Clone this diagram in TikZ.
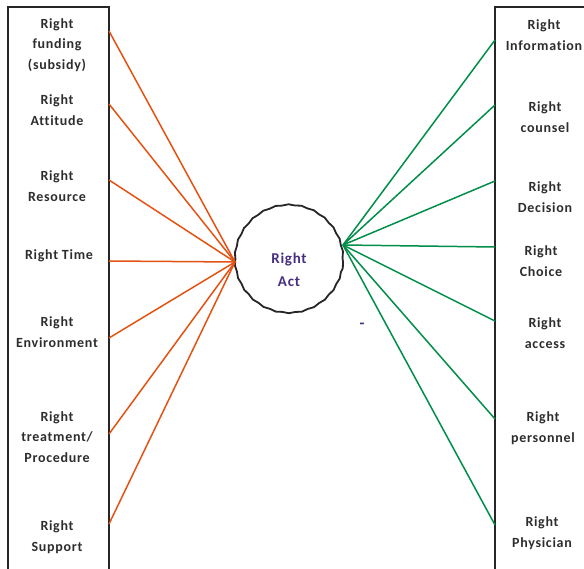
\documentclass[tikz,border=0pt]{standalone}
\usepackage{fontspec}
\setmainfont{Carlito}[LetterSpace=5, Ligatures={NoCommon}]
\usetikzlibrary{decorations.pathmorphing}

\definecolor{leftline}{RGB}{228,82,18}
\definecolor{rightline}{RGB}{0,142,72}
\definecolor{actcolor}{RGB}{72,46,128}
\definecolor{boxtext}{RGB}{45,45,45}

\tikzset{
  item/.style={align=center, text=boxtext, font=\fontsize{14}{20.8}\selectfont\bfseries},
  box/.style={draw=black!85, line width=1.5pt},
  lline/.style={leftline, line width=1.5pt},
  rline/.style={rightline, line width=1.5pt}
}

\begin{document}
\begin{tikzpicture}[x=1pt,y=-1pt]

\useasboundingbox (0,0) rectangle (584,569);

\draw[box] (8,575) -- (8,7) -- (109,7) -- (109,575);
\draw[box] (590,7) -- (495,7) -- (495,575);

\node[draw=black!85, line width=1.8pt, circle, minimum size=108pt, decorate,
  decoration={snake, amplitude=0.45pt, segment length=13pt}] (act) at (289,262) {};
\node[text=actcolor, font=\fontsize{15}{23}\selectfont\bfseries, align=center] (acttext) at (289,270) {Right\\Act};

\node[item] (funding) at (57,45) {Right\\funding\\(subsidy)};
\node[item] (attitude) at (57,110) {Right\\Attitude};
\node[item] (resource) at (57,186) {Right\\Resource};
\node[item] (time) at (59,256) {Right Time};
\node[item] (environment) at (57,332) {Right\\Environment};
\node[item] (treatment) at (57,437) {Right\\treatment/\\Procedure};
\node[item] (support) at (57,537) {Right\\Support};

\node[item] (information) at (544,35) {Right\\Information};
\node[item] (counsel) at (545,117) {Right\\counsel};
\node[item] (decision) at (545,197) {Right\\Decision};
\node[item] (choice) at (541,261) {Right\\Choice};
\node[item] (access) at (545,333) {Right\\access};
\node[item] (personnel) at (543,428) {Right\\personnel};
\node[item] (physician) at (542,533) {Right\\Physician};

\node[text=actcolor, font=\fontsize{16}{16}\selectfont\bfseries, inner sep=0pt] (dash) at (362,326) {-};

\coordinate (l1) at (109,31);
\coordinate (l2) at (109,104);
\coordinate (l3) at (109,180);
\coordinate (l4) at (109,261);
\coordinate (l5) at (109,338);
\coordinate (l6) at (109,434);
\coordinate (l7) at (109,524);

\coordinate (r1) at (495,40);
\coordinate (r2) at (495,105);
\coordinate (r3) at (495,181);
\coordinate (r4) at (495,247);
\coordinate (r5) at (495,321);
\coordinate (r6) at (495,419);
\coordinate (r7) at (495,525);

\coordinate (in) at (235,262);
\coordinate (out) at (343,245);

\draw[lline] (l1) -- (in);
\draw[lline] (l2) -- (in);
\draw[lline] (l3) -- (in);
\draw[lline] (l4) -- (in);
\draw[lline] (l5) -- (in);
\draw[lline] (l6) -- (in);
\draw[lline] (l7) -- (in);

\draw[rline] (out) -- (r1);
\draw[rline] (out) -- (r2);
\draw[rline] (out) -- (r3);
\draw[rline] (out) -- (r4);
\draw[rline] (out) -- (r5);
\draw[rline] (out) -- (r6);
\draw[rline] (out) -- (r7);

\end{tikzpicture}
\end{document}
